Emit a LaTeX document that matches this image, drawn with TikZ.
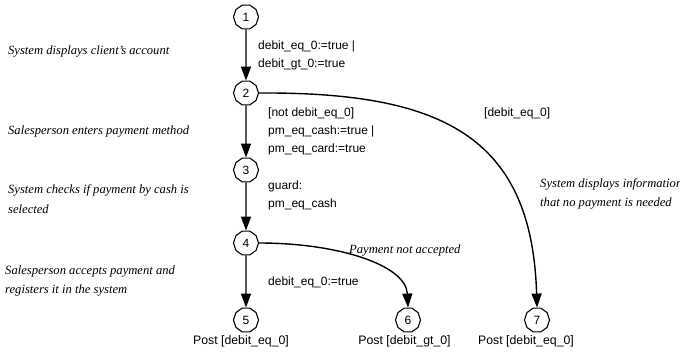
\documentclass[tikz,border=0pt]{standalone}
\usepackage{fontspec}
\setmainfont{Liberation Sans}
\newfontfamily\cmtfont{Liberation Serif}
\usetikzlibrary{arrows.meta,shapes.geometric}
\begin{document}
\begin{tikzpicture}[x=1pt,y=-1pt,
  state/.style={regular polygon,regular polygon sides=10,draw,line width=1.1pt,minimum size=25pt,inner sep=0pt,font=\fontsize{12}{13}\selectfont},
  lbl/.style={anchor=west,align=left,font=\fontsize{12}{18}\selectfont,inner sep=0pt},
  post/.style={font=\fontsize{12.3}{13}\selectfont,inner sep=0pt},
  cmt/.style={anchor=west,align=left,font=\cmtfont\itshape\fontsize{12.6}{19.5}\selectfont,inner sep=0pt},
  tr/.style={line width=1.4pt,-{Triangle[length=14pt,width=10pt]}}]
\useasboundingbox (0,0) rectangle (680,352);
\node[state] (n1) at (246,17) {1};
\node[state] (n2) at (246,93) {2};
\node[state] (n3) at (246,170) {3};
\node[state] (n4) at (246,243) {4};
\node[state] (n5) at (246,320) {5};
\node[state] (n6) at (408,320) {6};
\node[state] (n7) at (537,320) {7};
\draw[tr] (n1) -- (n2);
\draw[tr] (n2) -- (n3);
\draw[tr] (n3) -- (n4);
\draw[tr] (n4) -- (n5);
\draw[tr] (n2.east) .. controls (440,92) and (532,135) .. (n7.north);
\draw[tr] (n4.east) .. controls (338,243) and (406,265) .. (n6.north);
\node[lbl] (l1) at (258,55) {debit\_eq\_0:=true |\\debit\_gt\_0:=true};
\node[lbl] (l2) at (268,131) {[not debit\_eq\_0]\\pm\_eq\_cash:=true |\\pm\_eq\_card:=true};
\node[lbl] (l3) at (484,113) {[debit\_eq\_0]};
\node[lbl] (l4) at (268,195) {guard:\\pm\_eq\_cash};
\node[lbl] (l5) at (268,282) {debit\_eq\_0:=true};
\node[post] (p5) at (241,341) {Post [debit\_eq\_0]};
\node[post] (p6) at (404.5,341) {Post [debit\_gt\_0]};
\node[post] (p7) at (526,341) {Post [debit\_eq\_0]};
\node[cmt] (c1) at (8,51) {System displays client’s account};
\node[cmt] (c2) at (8,131) {Salesperson enters payment method};
\node[cmt] (c3) at (8,199) {System checks if payment by cash is\\selected};
\node[cmt] (c4) at (5,281) {Salesperson accepts payment and\\registers it in the system};
\node[cmt] (c5) at (349,250) {Payment not accepted};
\node[cmt] (c6) at (540,194) {System displays information\\that no payment is needed};
\end{tikzpicture}
\end{document}
